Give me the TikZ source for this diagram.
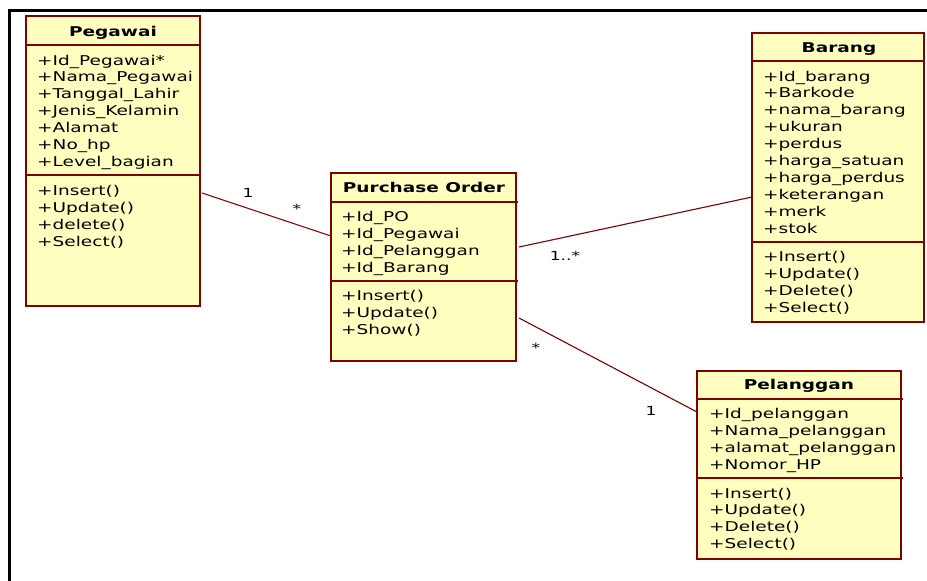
\documentclass[tikz,border=0pt]{standalone}
\usepackage{fontspec}
\newfontfamily\umlfont[FakeStretch=1.37]{DejaVu Sans}
\definecolor{umlfill}{RGB}{255,255,192}
\definecolor{umlline}{RGB}{128,0,0}
\begin{document}
\begin{tikzpicture}[x=1pt,y=-1pt,
  classbox/.style={draw=umlline,line width=1.8pt,fill=umlfill},
  sepline/.style={draw=umlline,line width=1.2pt},
  assoc/.style={draw=umlline,line width=1.1pt},
  txt/.style={anchor=base west,inner sep=0pt,font=\umlfont\fontsize{13.5}{17}\selectfont},
  ttl/.style={anchor=base,inner sep=0pt,font=\umlfont\bfseries\fontsize{13.5}{17}\selectfont},
  mult/.style={anchor=base,inner sep=0pt,font=\umlfont\fontsize{12.5}{15}\selectfont}]
\useasboundingbox (0,0) rectangle (927,581);
\fill[white] (0,0) rectangle (927,581);
% frame
\draw[line width=2.8pt] (9.5,581) -- (9.5,10.7) -- (927,10.7);

% Pegawai
\path[classbox] (26,16) rectangle (200,306);
\draw[sepline] (26,45) -- (201,45);
\draw[sepline] (26,175) -- (201,175);
\node[ttl] (pegT) at (113,36) {Pegawai};
\foreach \t [count=\i from 0] in {+Id\_Pegawai*,+Nama\_Pegawai,+Tanggal\_Lahir,+Jenis\_Kelamin,+Alamat,+No\_hp,+Level\_bagian}
  \node[txt] (pegA\i) at (37,65+\i*16.9) {\t};
\foreach \t [count=\i from 0] in {+Insert(),+Update(),+delete(),+Select()}
  \node[txt] (pegM\i) at (37,195+\i*17) {\t};
\coordinate (pegE) at (202,193);

% Barang
\path[classbox] (752,33) rectangle (924,322);
\draw[sepline] (752,61) -- (925,61);
\draw[sepline] (752,242) -- (925,242);
\node[ttl] (barT) at (839,52) {Barang};
\foreach \t [count=\i from 0] in {+Id\_barang,+Barkode,+nama\_barang,+ukuran,+perdus,+harga\_satuan,+harga\_perdus,+keterangan,+merk,+stok}
  \node[txt] (barA\i) at (763,81+\i*16.9) {\t};
\foreach \t [count=\i from 0] in {+Insert(),+Update(),+Delete(),+Select()}
  \node[txt] (barM\i) at (763,261+\i*17) {\t};
\coordinate (barW) at (752,197);

% Purchase Order
\path[classbox] (331,173) rectangle (516,361);
\draw[sepline] (331,202) -- (518,202);
\draw[sepline] (331,281) -- (518,281);
\node[ttl] (poT) at (424,192) {Purchase Order};
\foreach \t [count=\i from 0] in {+Id\_PO,+Id\_Pegawai,+Id\_Pelanggan,+Id\_Barang}
  \node[txt] (poA\i) at (341,221+\i*17) {\t};
\foreach \t [count=\i from 0] in {+Insert(),+Update(),+Show()}
  \node[txt] (poM\i) at (341,300+\i*17) {\t};
\coordinate (poW) at (331,236);
\coordinate (poE1) at (519,247);
\coordinate (poE2) at (519,318);

% Pelanggan
\path[classbox] (697,371) rectangle (901,559);
\draw[sepline] (697,399) -- (903,399);
\draw[sepline] (697,478) -- (903,478);
\node[ttl] (pelT) at (799,389) {Pelanggan};
\foreach \t [count=\i from 0] in {+Id\_pelanggan,+Nama\_pelanggan,+alamat\_pelanggan,+Nomor\_HP}
  \node[txt] (pelA\i) at (709,418+\i*17) {\t};
\foreach \t [count=\i from 0] in {+Insert(),+Update(),+Delete(),+Select()}
  \node[txt] (pelM\i) at (709,498+\i*16.8) {\t};
\coordinate (pelW) at (697,412);

% associations
\draw[assoc] (pegE) -- (poW);
\draw[assoc] (poE1) -- (barW);
\draw[assoc] (poE2) -- (pelW);

% multiplicities
\node[mult] (m1) at (248,197) {1};
\node[mult] (m2) at (297,213) {*};
\node[mult] (m3) at (565,260) {1..*};
\node[mult] (m4) at (536,352) {*};
\node[mult] (m5) at (651,415) {1};
\end{tikzpicture}
\end{document}
